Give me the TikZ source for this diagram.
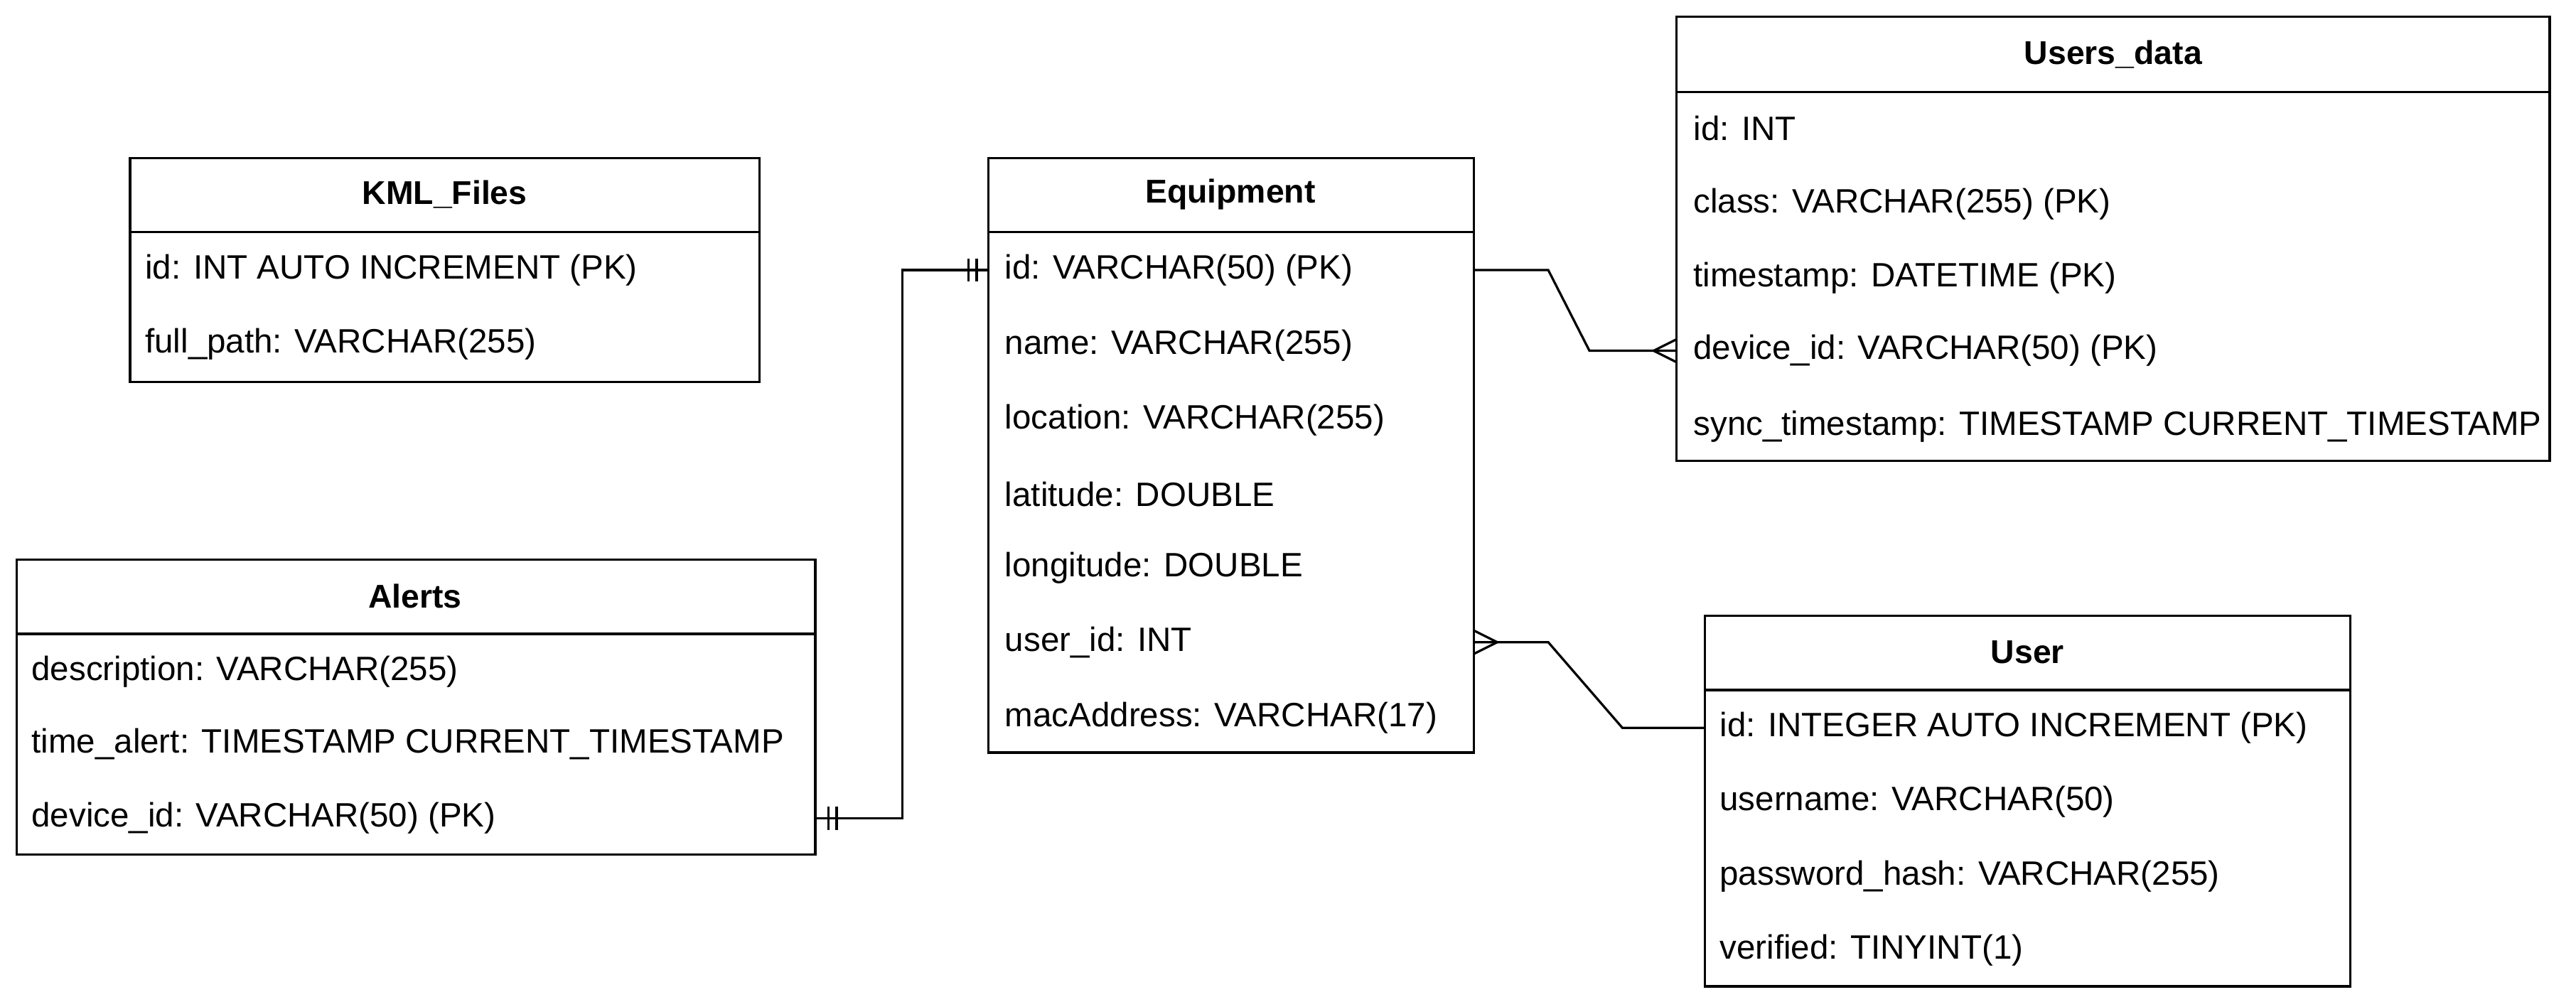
\documentclass[tikz,border=0pt]{standalone}
\usepackage{fontspec}
\setmainfont{Liberation Sans}
\begin{document}
\begin{tikzpicture}[x=1pt,y=-1pt,
  box/.style={draw=black,line width=1.4pt},
  ttl/.style={font=\fontsize{20}{24}\selectfont\bfseries,anchor=center},
  row/.style={font=\fontsize{20.5}{24}\selectfont,anchor=west,inner sep=0pt},
  conn/.style={line width=1.4pt}]
\useasboundingbox (0,0) rectangle (1564,608.5);
% KML_Files
\draw[box] (79,96) rectangle (461,232); \draw[box] (79,141)--(461,141);
\node[ttl] (kt) at (270,118) {KML\_Files};
\node[row] (k1) at (88,164) {id: INT AUTO INCREMENT (PK)};
\node[row] (k2) at (88,209) {full\_path: VARCHAR(255)};
% Equipment
\draw[box] (600,96) rectangle (895,457); \draw[box] (600,141)--(895,141);
\node[ttl] (et) at (747,118) {Equipment};
\node[row] (e1) at (610,164) {id: VARCHAR(50) (PK)};
\node[row] (e2) at (610,210) {name: VARCHAR(255)};
\node[row] (e3) at (610,255) {location: VARCHAR(255)};
\node[row] (e4) at (610,300) {latitude: DOUBLE};
\node[row] (e5) at (610,345) {longitude: DOUBLE};
\node[row] (e6) at (610,390) {user\_id: INT};
\node[row] (e7) at (610,436) {macAddress: VARCHAR(17)};
% Users_data
\draw[box] (1018,10) rectangle (1548,280); \draw[box] (1018,56)--(1548,56);
\node[ttl] (ut) at (1283,33) {Users\_data};
\node[row] (u1) at (1028,78) {id: INT};
\node[row] (u2) at (1028,124) {class: VARCHAR(255) (PK)};
\node[row] (u3) at (1028,169) {timestamp: DATETIME (PK)};
\node[row] (u4) at (1028,213) {device\_id: VARCHAR(50) (PK)};
\node[row] (u5) at (1028,259) {sync\_timestamp: TIMESTAMP CURRENT\_TIMESTAMP};
% Alerts
\draw[box] (10,340) rectangle (495,519); \draw[box] (10,385)--(495,385);
\node[ttl] (at) at (252,362) {Alerts};
\node[row] (a1) at (19,408) {description: VARCHAR(255)};
\node[row] (a2) at (19,452) {time\_alert: TIMESTAMP CURRENT\_TIMESTAMP};
\node[row] (a3) at (19,497) {device\_id: VARCHAR(50) (PK)};
% User
\draw[box] (1035,374) rectangle (1427,599); \draw[box] (1035,419)--(1427,419);
\node[ttl] (st) at (1231,396) {User};
\node[row] (s1) at (1044,442) {id: INTEGER AUTO INCREMENT (PK)};
\node[row] (s2) at (1044,487) {username: VARCHAR(50)};
\node[row] (s3) at (1044,532) {password\_hash: VARCHAR(255)};
\node[row] (s4) at (1044,577) {verified: TINYINT(1)};
% coordinates
\coordinate (eL) at (600,164); \coordinate (aR) at (495,497);
\coordinate (eR) at (895,164); \coordinate (uL) at (1018,213);
\coordinate (eU) at (895,390); \coordinate (sL) at (1035,442);
% connectors
\draw[conn] (eL) -- (548,164) -- (548,497) -- (aR);
\draw[conn] (588,157)--(588,171) (593,157)--(593,171);
\draw[conn] (503,490)--(503,504) (508,490)--(508,504);
\draw[conn] (eR) -- (940,164) -- (965,213) -- (uL);
\draw[conn] (1004,213)--(1018,206) (1004,213)--(1018,220);
\draw[conn] (eU) -- (940,390) -- (985,442) -- (sL);
\draw[conn] (909,390)--(895,383) (909,390)--(895,397);
\end{tikzpicture}
\end{document}
